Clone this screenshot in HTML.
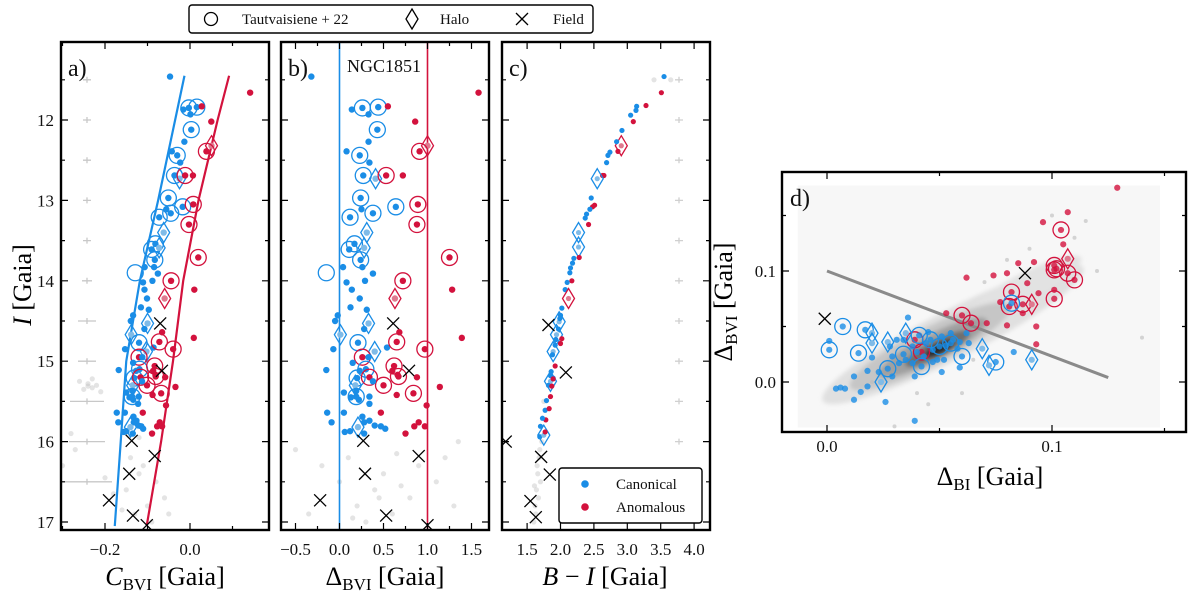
<!DOCTYPE html>
<html><head><meta charset="utf-8">
<style>
html,body{margin:0;padding:0;background:#fff;}
svg{display:block;font-family:"Liberation Serif","DejaVu Serif",serif;}
</style></head>
<body>
<svg id="fig" width="1200" height="592" viewBox="0 0 1200 592" xmlns="http://www.w3.org/2000/svg">
<defs>
<clipPath id="clipA"><rect x="61" y="42" width="208" height="488"/></clipPath>
<clipPath id="clipB"><rect x="281" y="42" width="208" height="488"/></clipPath>
<clipPath id="clipC"><rect x="502" y="42" width="208" height="488"/></clipPath>
<clipPath id="clipD"><rect x="782" y="172" width="404" height="260"/></clipPath>
<filter id="blur" x="-50%" y="-50%" width="200%" height="200%"><feGaussianBlur stdDeviation="2"/></filter>
</defs>
<g id="layer"></g>
</svg>
<script>
// ---------- DATA ----------
const fidMag=[11.45,12,13,14,15,16,17.05];
const fidBlue=[-0.013,-0.035,-0.075,-0.118,-0.15,-0.163,-0.177];
const fidRed=[0.092,0.065,0.02,-0.016,-0.04,-0.068,-0.102];

const starMag=[11.46,11.66,11.85,11.84,11.87,11.93,11.83,12.02,12.12,12.27,12.32,12.39,12.39,12.44,12.53,12.69,12.73,12.69,12.69,12.97,13.11,13.16,13.21,13.08,13.05,13.30,13.40,13.54,13.61,13.59,13.74,13.83,13.83,13.91,13.90,13.71,14.00,14.11,14.02,14.11,14.00,14.22,14.22,14.33,14.36,14.53,14.43,14.50,14.67,14.53,14.77,14.88,14.85,14.83,14.76,14.64,14.85,14.71,14.95,15.11,15.10,15.12,15.21,15.30,15.06,15.12,15.17,15.19,15.20,15.30,15.12,15.20,15.32,15.42,15.40,15.55,15.39,15.37,15.45,15.48,15.44,15.53,15.44,15.64,15.64,15.76,15.69,15.76,15.74,15.80,15.81,15.88,15.87,15.90,15.84,15.82,15.64,15.90,15.81,15.76,15.81,15.99,16.18,16.40,16.73,16.92,17.04,14.60,14.95,15.02,15.25];
const starDelta=[-0.32,1.58,0.26,0.44,0.14,0.33,0.55,0.86,0.43,0.33,1.0,0.91,0.08,0.23,0.34,0.27,0.41,0.53,0.72,0.24,0.25,0.38,0.12,0.64,0.89,0.88,0.31,0.17,0.11,0.28,0.24,0.26,0.04,0.38,-0.15,1.25,0.72,1.28,0.08,0.14,0.29,0.23,0.63,0.125,0.31,0.61,-0.02,-0.05,0.01,0.33,0.21,0.40,-0.07,0.54,0.65,0.68,0.97,1.39,0.26,-0.15,0.30,0.23,0.20,0.18,0.62,0.60,0.66,0.67,0.34,0.50,0.79,0.88,1.14,0.65,0.84,0.99,0.05,0.19,0.13,0.22,0.34,0.34,0.19,-0.14,0.05,-0.09,0.26,0.28,0.34,0.40,0.47,0.06,0.12,0.28,0.52,0.21,0.47,0.75,0.85,0.90,0.97,0.27,0.90,0.29,-0.22,0.53,1.0,0.28,0.33,0.15,0.38];
const starPop=["c","a","c","c","c","c","a","a","c","c","a","a","c","c","c","c","c","a","a","c","c","c","c","c","a","a","c","c","c","c","c","c","c","c","c","a","a","a","c","c","c","c","a","c","c","x","c","c","c","c","c","c","c","c","a","a","a","a","a","c","c","c","c","c","a","a","a","a","a","a","x","a","a","a","a","a","c","c","c","c","c","c","c","c","c","c","c","c","c","c","c","c","c","c","c","c","a","a","a","a","a","x","x","x","x","x","x","c","c","c","c"];
const starMark=["","","o","o","","","","","o","","d","o","","o","","o","d","o","","o","","o","o","o","o","o","d","o","o","d","o","","","","O","o","o","","","","","","d","","","x","","","d","d","o","d","","","o","","o","","o","","o","","o","d","o","","","o","o","o","x","","","","o","","","","","","","","o","","","","","","","","","","","","","d","","","","","","x","x","x","x","x","x","","","",""];

const bgAColor=[-0.24,-0.23,-0.25,-0.22,-0.26,-0.21,-0.23,-0.14,-0.12,-0.15,-0.10,-0.13,-0.08,-0.11,-0.16,-0.09,-0.06,-0.27,-0.20,-0.05,-0.28,-0.30,-0.12,-0.24,-0.18];
const bgAMag=[15.28,15.33,15.35,15.30,15.25,15.38,15.22,16.2,16.4,16.6,16.8,16.9,16.5,16.3,16.85,17.0,16.7,16.1,16.45,16.9,15.9,16.3,15.95,15.31,16.65];
const bgBDelta=[-0.2,0.0,0.1,0.2,0.4,0.5,0.6,0.8,1.1,1.3,-0.5,0.3,0.9,0.45,0.7,-0.35,1.35,0.15,0.65,1.2];
const bgBMag=[16.3,16.5,16.2,16.8,16.6,16.4,16.9,16.7,16.5,16.8,16.1,17.0,16.3,16.7,16.55,16.9,16.0,16.95,16.15,16.2];

const cColor=[3.55,3.51,3.28,3.14,3.13,3.05,3.09,2.92,2.91,2.84,2.86,2.74,2.71,2.69,2.65,2.63,2.55,2.46,2.51,2.48,2.44,2.39,2.37,2.42,2.27,2.27,2.28,2.20,2.18,2.15,2.14,2.17,2.10,2.07,2.12,2.02,2.00,1.98,1.94,1.89,1.99,1.97,1.93,1.92,1.88,2.02,2.00,1.92,1.85,1.86,1.85,1.89,1.82,1.87,1.89,1.79,1.77,1.85,1.83,1.78,1.73,1.70,1.69,1.75,1.77,1.82,2.08,1.18,1.71,1.84,1.55,1.63];
const cMag=[11.46,11.66,11.82,11.83,11.88,11.94,12.02,12.13,12.32,12.27,12.39,12.40,12.44,12.53,12.69,12.69,12.73,12.97,13.06,13.08,13.11,13.17,13.22,13.30,13.40,13.58,13.71,13.72,13.78,13.84,13.90,14.00,14.02,14.11,14.22,14.34,14.43,14.51,14.67,14.88,14.47,14.60,14.73,14.80,14.92,14.72,14.78,15.06,15.25,15.13,15.18,15.21,15.30,15.31,15.22,15.49,15.61,15.44,15.59,15.73,15.71,15.81,15.94,15.92,15.88,14.55,15.14,16.00,16.19,16.41,16.74,16.94];
const cPop=["c","a","a","c","c","c","a","c","a","c","a","c","c","c","a","a","c","c","a","a","c","c","c","a","c","c","a","c","c","c","c","a","c","c","a","c","c","c","c","c","c","c","c","c","c","a","a","a","c","c","c","c","c","a","a","c","c","a","a","a","c","c","c","c","a","x","x","x","x","x","x","x"];
const cMark=["","","","","","","","","d","","","","","","","","d","","","","","","","","d","d","","","","","","","","","d","","","d","d","d","","","","","","","","","d","","","","","","","","","","","","","","","d","","x","x","x","x","x","x","x"];
const bgCColor=[1.72,1.68,1.66,1.64,1.62,1.60,1.70,1.65,1.63,1.67,1.75,3.40,3.65,1.69,1.61];
const bgCMag=[16.0,16.2,16.4,16.6,16.8,17.0,16.5,16.3,16.9,16.7,15.5,11.5,11.5,16.1,16.55];

const dBI=[0.129,0.107,0.096,0.104,0.105,0.107,0.101,0.101,0.102,0.107,0.110,0.101,0.101,0.092,0.085,0.080,0.074,0.062,0.089,0.094,0.082,0.081,0.087,0.091,0.077,0.087,0.080,0.093,0.093,0.060,0.064,0.053,0.071,0.039,0.042,
 0.088,-0.001,
 0.007,0.001,0.014,0.017,0.027,0.034,0.041,0.042,0.050,0.060,0.075,0.082,0.046,0.055,
 0.020,0.020,0.027,0.035,0.024,0.069,0.072,0.091,
 0.001,0.004,0.006,0.008,0.012,0.015,0.012,0.018,0.018,0.020,0.026,0.023,0.029,0.039,0.036,0.039,0.047,0.051,0.059,0.063,0.062,0.083,0.028,0.029,0.032,0.035,0.038,0.040,0.044,0.047,0.051,0.053,0.056,0.058,0.031,0.045,0.049,0.052,0.043,0.038,0.034,0.055,0.059];
const dBVI=[0.175,0.153,0.144,0.137,0.124,0.111,0.105,0.101,0.102,0.098,0.092,0.075,0.083,0.108,0.107,0.098,0.096,0.094,0.089,0.080,0.081,0.068,0.070,0.070,0.072,0.062,0.051,0.050,0.034,0.060,0.053,0.062,0.053,0.038,0.027,
 0.098,0.057,
 0.050,0.029,0.026,0.047,0.012,0.025,0.042,0.014,0.032,0.023,0.018,0.071,0.038,0.035,
 0.044,0.035,0.036,0.044,0.000,0.030,0.015,0.020,
 0.037,-0.006,-0.005,-0.006,0.005,-0.009,-0.016,-0.004,0.010,0.022,-0.018,0.009,0.005,-0.035,0.058,0.005,0.018,0.009,0.013,0.035,0.044,0.027,0.032,0.023,0.017,0.020,0.032,0.027,0.035,0.029,0.041,0.033,0.038,0.030,0.038,0.045,0.020,0.020,0.023,0.017,0.038,0.044,0.036];
const dPop=["a","a","a","a","a","a","a","a","a","a","a","a","a","a","a","a","a","a","a","a","a","a","a","a","a","a","a","a","a","a","a","a","a","a","a",
 "x","x",
 "c","c","c","c","c","c","c","c","c","c","c","c","c","c",
 "c","c","c","c","c","c","c","c",
 "c","c","c","c","c","c","c","c","c","c","c","c","c","c","c","c","c","c","c","c","c","c","c","c","c","c","c","c","c","c","c","c","c","c","c","c","c","c","c","c","c","c","c"];
const dMark=["","","","o","","d","o","o","o","o","o","o","","","","","","","","","o","o","o","d","","","","","","o","o","","","o","o",
 "x","x",
 "o","o","o","o","o","o","o","o","o","o","o","o","o","o",
 "d","d","d","d","d","d","d","d"];
const bgDX=[0.04,0.07,0.09,0.11,0.12,0.06,0.03,0.10,0.14,0.08,0.02,0.065,0.045,0.115];
const bgDY=[-0.01,0.09,0.12,0.13,0.10,-0.01,-0.04,0.15,0.04,0.11,0.0,0.02,-0.02,0.145];
const kdeX=[0.056,0.088,0.046,0.047,0.049,0.050];
const kdeY=[0.043,0.086,0.032,0.031,0.030,0.030];
const kdeLen=[0.065,0.028,0.040,0.027,0.016,0.007];
const kdeWid=[0.022,0.012,0.017,0.012,0.008,0.005];
const kdeShade=["#e0e0e0","#e2e2e2","#c6c6c6","#a0a0a0","#707070","#2a2a2a"];
const lineBI=[0.0,0.125];
const lineBVI=[0.1,0.004];

// ---------- AXES ----------
const yMag=m=>120+80.4*(m-12);
const xA=c=>190+425*c;
const xB=d=>339.5+88*d;
const xC=b=>560.5+66.8*(b-2);
const xD=v=>827+2250*v;
const yD=v=>382-1110*v;
function interp(xs,ys,x){for(let i=0;i<xs.length-1;i++){if(x<=xs[i+1]||i===xs.length-2){const t=(x-xs[i])/(xs[i+1]-xs[i]);return ys[i]+t*(ys[i+1]-ys[i]);}}}
const cbviOf=(m,d)=>{const b=interp(fidMag,fidBlue,m),r=interp(fidMag,fidRed,m);return b+d*(r-b);};

const BLUE="#1a8de6",RED="#d3123d",BLUEF="#7fbbe8",REDF="#e0798f";
const NS="http://www.w3.org/2000/svg";
const root=document.getElementById('layer');
function mk(tag,attrs,parent){const e=document.createElementNS(NS,tag);for(const k in attrs)e.setAttribute(k,attrs[k]);(parent||root).appendChild(e);return e;}
function grp(name,clip){const g=mk('g',clip?{'clip-path':'url(#'+clip+')'}:{});


return g;}

function drawStar(g,x,y,pop,mark,dotR,alphaDot){
  if(mark==='x'){
    const e=mk('path',{d:`M${x-6},${y-6}L${x+6},${y+6}M${x-6},${y+6}L${x+6},${y-6}`,stroke:'#000','stroke-width':1.3,fill:'none'},g);
    
    
    return;
  }
  const col=pop==='a'?RED:BLUE;
  if(mark==='d'){
    const f=mk('circle',{cx:x,cy:y,r:dotR,fill:pop==='a'?REDF:BLUEF},g);
    
    
    const e=mk('path',{d:`M${x},${y-10}L${x+6},${y}L${x},${y+10}L${x-6},${y}Z`,stroke:col,'stroke-width':1.3,fill:'none'},g);
    
    
    return;
  }
  if(mark!=='O'){
    const d=mk('circle',{cx:x,cy:y,r:dotR,fill:col,'fill-opacity':alphaDot},g);
    
    
  }
  if(mark==='o'||mark==='O'){
    const c=mk('circle',{cx:x,cy:y,r:8,stroke:col,'stroke-width':1.3,fill:'none'},g);
    
    
  }
}

// ---------- FRAMES & TICKS ----------
function frame(name,l,t,w,h){
  const r=mk('rect',{x:l,y:t,width:w,height:h,fill:'none',stroke:'#000','stroke-width':2.4});
  
  
}
function vTicks(l,r,vals,fy,len){for(const v of vals){const y=fy(v);
  const e=mk('path',{d:`M${l},${y}h${len}M${r},${y}h${-len}`,stroke:'#000','stroke-width':1.2});
  
  }}
function hTicks(t,b,vals,fx,len){for(const v of vals){const x=fx(v);
  const e=mk('path',{d:`M${x},${t}v${len}M${x},${b}v${-len}`,stroke:'#000','stroke-width':1.2});
  
  }}
function label(txt,x,y,size,anchor,name){const e=mk('text',{x:x,y:y,'font-size':size,'text-anchor':anchor||'middle',fill:'#111'});e.textContent=txt;
  
  return e;}

const magMajor=[12,13,14,15,16,17],magMinor=[11.5,12.5,13.5,14.5,15.5,16.5];

// ---- Panel A ----
const gA=grp('panel-a-plot','clipA');
const errMag=[11.5,12,12.5,13,13.5,14,14.5,15,15.5,16,16.5];
const errHalf=[4,4,4,4,4,5,9,9,17,18,25];
errMag.forEach((m,i)=>{const y=yMag(m);const e=mk('path',{d:`M${87-errHalf[i]},${y}h${2*errHalf[i]}M87,${y-3}v6`,stroke:'#c8c8c8','stroke-width':1.3},gA);
  
  });
bgAColor.forEach((c,i)=>{const e=mk('circle',{cx:xA(c),cy:yMag(bgAMag[i]),r:2.6,fill:'#bbb','fill-opacity':0.4},gA);
  
  });
{const pb=fidMag.map((m,i)=>`${xA(fidBlue[i])},${yMag(m)}`).join(' ');
 const pr=fidMag.map((m,i)=>`${xA(fidRed[i])},${yMag(m)}`).join(' ');
 const l1=mk('polyline',{points:pb,stroke:BLUE,'stroke-width':2.2,fill:'none'},gA);
 
 
 const l2=mk('polyline',{points:pr,stroke:RED,'stroke-width':2.2,fill:'none'},gA);
 
 }
starMag.forEach((m,i)=>drawStar(gA,xA(cbviOf(m,starDelta[i])),yMag(m),starPop[i],starMark[i],3.2,1));
frame('panel-a-frame',61,42,208,488);
vTicks(61,269,magMajor,yMag,7);vTicks(61,269,magMinor,yMag,4);
hTicks(42,530,[-0.2,0.0],xA,7);hTicks(42,530,[-0.3,-0.1,0.1],xA,4);
label('a)',68,76,24,'start','panel-a-label');
label('−0.2',xA(-0.2),555,17,'middle','x-tick-label');
label('0.0',xA(0),555,17,'middle','x-tick-label');
magMajor.forEach(m=>label(String(m),54,yMag(m)+6,17,'end','y-tick-label'));
{const t=mk('text',{x:165,y:585,'font-size':26,'text-anchor':'middle'});
 t.innerHTML='<tspan font-style="italic">C</tspan><tspan font-size="17" dy="5">BVI</tspan><tspan dy="-5"> [Gaia]</tspan>';
 
 }
{const t=mk('text',{x:0,y:0,'font-size':26,'text-anchor':'middle',transform:'translate(31,285) rotate(-90)'});
 t.innerHTML='<tspan font-style="italic">I</tspan> [Gaia]';
 
 }

// ---- Panel B ----
const gB=grp('panel-b-plot','clipB');
bgBDelta.forEach((d,i)=>{const e=mk('circle',{cx:xB(d),cy:yMag(bgBMag[i]),r:2.6,fill:'#bbb','fill-opacity':0.4},gB);
  
  });
{const l1=mk('line',{x1:xB(0),x2:xB(0),y1:42,y2:530,stroke:BLUE,'stroke-width':1.6},gB);
 
 
 const l2=mk('line',{x1:xB(1),x2:xB(1),y1:42,y2:530,stroke:RED,'stroke-width':1.6},gB);
 
 }
starMag.forEach((m,i)=>drawStar(gB,xB(starDelta[i]),yMag(m),starPop[i],starMark[i],3.2,1));
frame('panel-b-frame',281,42,208,488);
vTicks(281,489,magMajor,yMag,7);vTicks(281,489,magMinor,yMag,4);
hTicks(42,530,[-0.5,0,0.5,1,1.5],xB,7);hTicks(42,530,[-0.25,0.25,0.75,1.25],xB,4);
label('b)',288,76,24,'start','panel-b-label');
label('NGC1851',384,72,18,'middle','cluster-name');
[[-0.5,'−0.5'],[0,'0.0'],[0.5,'0.5'],[1,'1.0'],[1.5,'1.5']].forEach(p=>label(p[1],xB(p[0]),555,17,'middle','x-tick-label'));
{const t=mk('text',{x:385,y:585,'font-size':26,'text-anchor':'middle'});
 t.innerHTML='Δ<tspan font-size="17" dy="5">BVI</tspan><tspan dy="-5"> [Gaia]</tspan>';
 
 }

// ---- Panel C ----
const gC=grp('panel-c-plot','clipC');
errMag.forEach((m,i)=>{const y=yMag(m);const e=mk('path',{d:`M675,${y}h8M679,${y-3}v6`,stroke:'#d0d0d0','stroke-width':1.3},gC);
  
  });
bgCColor.forEach((b,i)=>{const e=mk('circle',{cx:xC(b),cy:yMag(bgCMag[i]),r:2.6,fill:'#bbb','fill-opacity':0.4},gC);
  
  });
cColor.forEach((b,i)=>drawStar(gC,xC(b),yMag(cMag[i]),cPop[i],cMark[i],2.6,1));
frame('panel-c-frame',502,42,208,488);
vTicks(502,710,magMajor,yMag,7);vTicks(502,710,magMinor,yMag,4);
hTicks(42,530,[1.5,2,2.5,3,3.5,4],xC,7);
label('c)',509,76,24,'start','panel-c-label');
[1.5,2,2.5,3,3.5,4].forEach(v=>label(v.toFixed(1),xC(v),555,17,'middle','x-tick-label'));
{const t=mk('text',{x:605,y:585,'font-size':26,'text-anchor':'middle'});
 t.innerHTML='<tspan font-style="italic">B</tspan> − <tspan font-style="italic">I</tspan> [Gaia]';
 
 }
{const lg=grp('population-legend');
 const r=mk('rect',{x:559,y:468,width:143,height:55,rx:3,fill:'#fff',stroke:'#000','stroke-width':1.4},lg);
 
 
 const d1=mk('circle',{cx:585,cy:484,r:3.8,fill:BLUE},lg);
 
 
 const d2=mk('circle',{cx:585,cy:507,r:3.8,fill:RED},lg);
 
 
 const t1=label('Canonical',616,489,15,'start','legend-canonical');lg.appendChild(t1);
 const t2=label('Anomalous',616,512,15,'start','legend-anomalous');lg.appendChild(t2);}

// ---- Panel D ----
const gD=grp('panel-d-plot','clipD');
{const bg=mk('rect',{x:xD(-0.013),y:yD(0.177),width:xD(0.148)-xD(-0.013),height:yD(-0.041)-yD(0.177),fill:'#f7f7f7'},gD);
 
 }
const gK=mk('g',{filter:'url(#blur)'},gD);


kdeX.forEach((v,i)=>{const cx=xD(v),cy=yD(kdeY[i]);
  const e=mk('ellipse',{cx:cx,cy:cy,rx:kdeLen[i]*2250,ry:kdeWid[i]*1110,fill:kdeShade[i],transform:`rotate(-27 ${cx} ${cy})`},gK);
  
  });
bgDX.forEach((v,i)=>{const e=mk('circle',{cx:xD(v),cy:yD(bgDY[i]),r:2,fill:'#bbb','fill-opacity':0.6},gD);
  
  });
{const l=mk('line',{x1:xD(lineBI[0]),y1:yD(lineBVI[0]),x2:xD(lineBI[1]),y2:yD(lineBVI[1]),stroke:'#8a8a8a','stroke-width':3},gD);
 
 }
dBI.forEach((v,i)=>drawStar(gD,xD(v),yD(dBVI[i]),dPop[i],dMark[i]||'',3.1,0.8));
frame('panel-d-frame',782,172,404,260);
vTicks(782,1186,[0,0.1],yD,7);vTicks(782,1186,[0.05,0.15],yD,4);
hTicks(172,432,[0,0.1],xD,7);hTicks(172,432,[0.05,0.15],xD,4);
label('d)',790,206,24,'start','panel-d-label');
label('0.0',xD(0),452,17,'middle','x-tick-label');
label('0.1',xD(0.1),452,17,'middle','x-tick-label');
label('0.0',776,yD(0)+6,17,'end','y-tick-label');
label('0.1',776,yD(0.1)+6,17,'end','y-tick-label');
{const t=mk('text',{x:990,y:485,'font-size':26,'text-anchor':'middle'});
 t.innerHTML='Δ<tspan font-size="17" dy="5">BI</tspan><tspan dy="-5"> [Gaia]</tspan>';
 
 }
{const t=mk('text',{x:0,y:0,'font-size':26,'text-anchor':'middle',transform:'translate(732,302) rotate(-90)'});
 t.innerHTML='Δ<tspan font-size="17" dy="5">BVI</tspan><tspan dy="-5"> [Gaia]</tspan>';
 
 }

// ---- Top legend ----
{const lg=grp('marker-legend');
 const r=mk('rect',{x:189,y:5,width:404,height:28,rx:3,fill:'#fff',stroke:'#000','stroke-width':1.4},lg);
 
 
 const c=mk('circle',{cx:211,cy:19,r:6.5,fill:'none',stroke:'#000','stroke-width':1.3},lg);
 
 
 const d=mk('path',{d:'M412,9L418,19L412,29L406,19Z',fill:'none',stroke:'#000','stroke-width':1.3},lg);
 
 
 const x=mk('path',{d:'M516,13L528,25M516,25L528,13',stroke:'#000','stroke-width':1.3},lg);
 
 
 lg.appendChild(label('Tautvaisiene + 22',242,24,15,'start','legend-tautvaisiene'));
 lg.appendChild(label('Halo',440,24,15,'start','legend-halo'));
 lg.appendChild(label('Field',553,24,15,'start','legend-field'));}
</script>
</body></html>
